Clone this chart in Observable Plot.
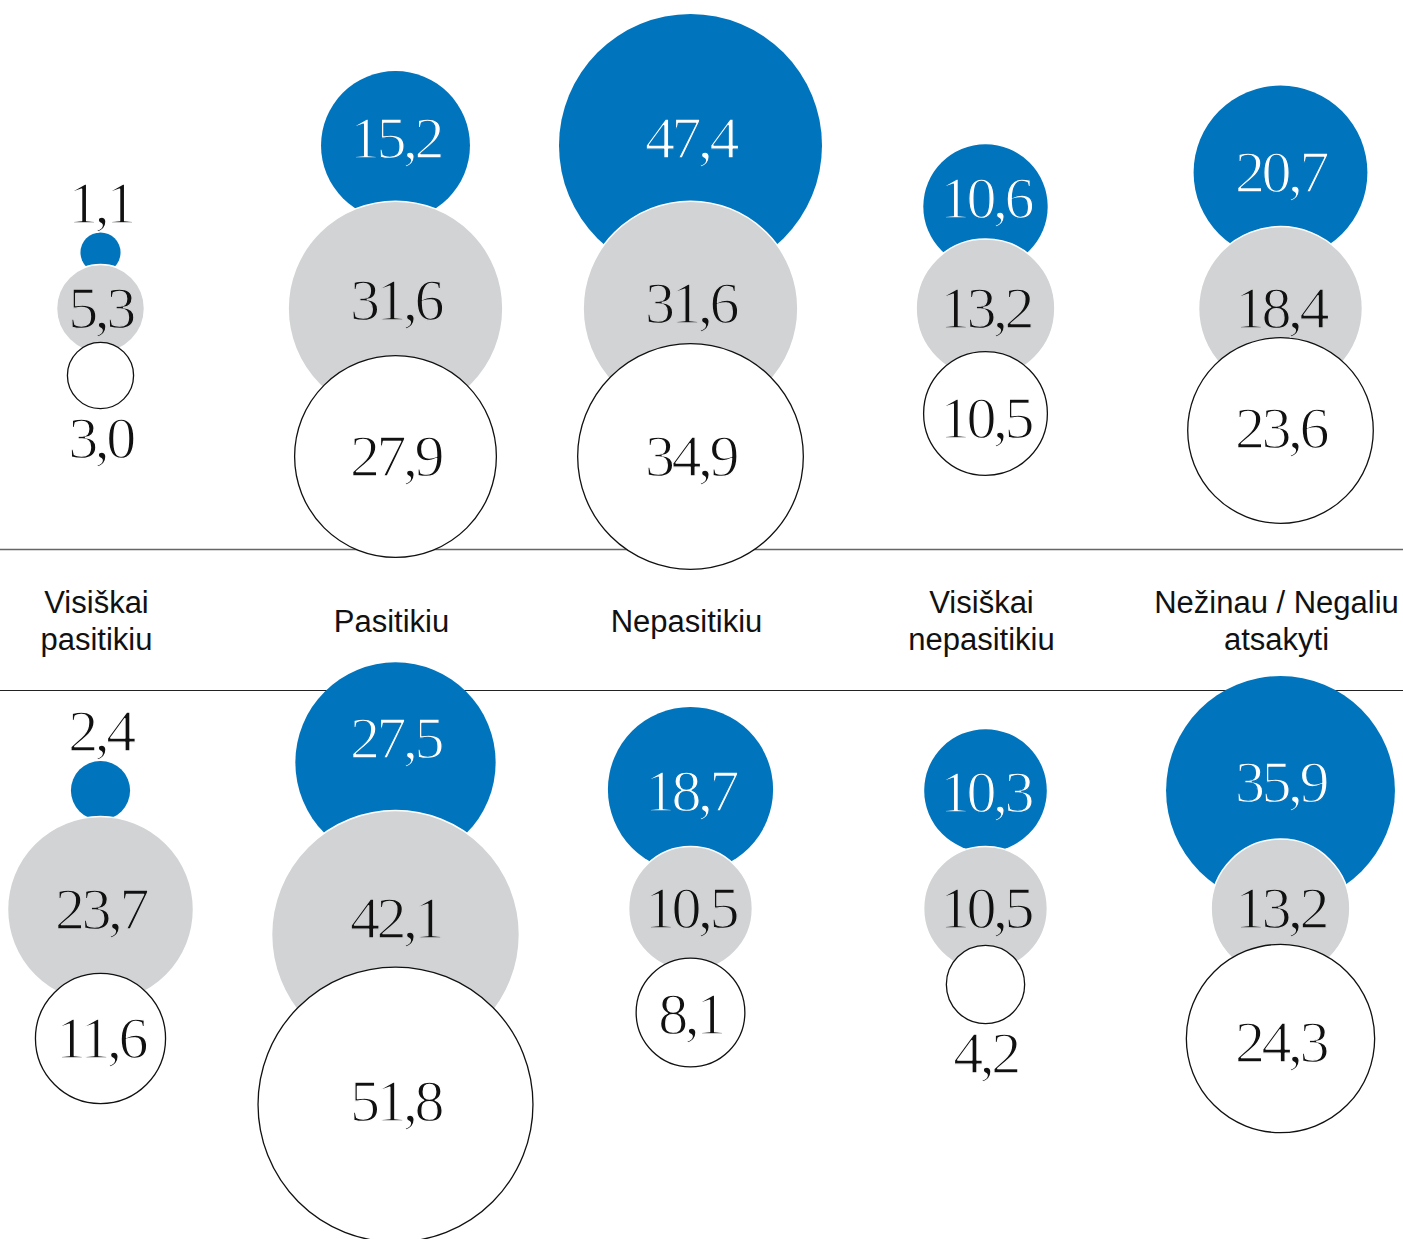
<!DOCTYPE html>
<html>
<head>
<meta charset="utf-8">
<script src="https://cdn.jsdelivr.net/npm/d3@7"></script>
<script src="https://cdn.jsdelivr.net/npm/@observablehq/plot@0.6"></script>
<style>
  html, body { margin: 0; padding: 0; background: #fff; }
</style>
</head>
<body>
<div id="chart"></div>
<script>
// ---------- data ----------
const categories = [
  "Visiškai\npasitikiu",
  "Pasitikiu",
  "Nepasitikiu",
  "Visiškai\nnepasitikiu",
  "Nežinau / Negaliu\natsakyti"
];
const seriesNames = ["blue", "grey", "white"];

// upper block
const topBlue  = [1.1, 15.2, 47.4, 10.6, 20.7];
const topGrey  = [5.3, 31.6, 31.6, 13.2, 18.4];
const topWhite = [3.0, 27.9, 34.9, 10.5, 23.6];
// lower block
const bottomBlue  = [2.4, 27.5, 18.7, 10.3, 35.9];
const bottomGrey  = [23.7, 42.1, 10.5, 10.5, 13.2];
const bottomWhite = [11.6, 51.8, 8.1, 4.2, 24.3];

// ---------- layout (vertical bubble centres, in layout units of the frame) ----------
const topBlueY     = [252, 145, 145, 206, 172];
const topGreyY     = [308, 308, 308, 308, 308];
const topWhiteY    = [375, 456, 456, 413, 430];
const bottomBlueY  = [790, 762, 789, 790, 790];
const bottomGreyY  = [909, 934, 908, 908, 908];
const bottomWhiteY = [1038, 1104, 1012, 984, 1038];
// label nudges relative to bubble centre
const topBlueNudge     = [0, -7, -7, -8, 0];
const topGreyNudge     = [0, -8, -5, 0, 0];
const topWhiteNudge    = [0, 0, 0, 5, -2];
const bottomBlueNudge  = [0, -24, 2, 2, -8];
const bottomGreyNudge  = [0, -16, 0, 0, 0];
const bottomWhiteNudge = [0, -3, 2, 0, 4];
const dividers = [549, 690];
const labelBandY = 619.5;

// ---------- styles ----------
const colors = {blue: "#0074bc", grey: "#d1d3d4", white: "#ffffff"};
const ink = "#111111";

const rDomain = [0, 100], rRange = [0, 191];
const rScale = d3.scaleSqrt().domain(rDomain).range(rRange);
const fmt = v => v.toFixed(1).replace(".", ",");

const rows = [];
function add(series, values, ys, nudges) {
  values.forEach((v, i) => {
    const y = ys[i];
    const r = rScale(v);
    const inside = v >= 5;
    let ly = y + nudges[i];
    if (!inside) ly = series === "blue" ? y - r - 29 : y + r + 30;
    rows.push({
      cat: categories[i], series, value: v, y, ly, inside,
      textFill: inside && series === "blue" ? "#ffffff" : ink,
      bg: inside ? colors[series] : "#ffffff"
    });
  });
}
add("blue", topBlue, topBlueY, topBlueNudge);
add("grey", topGrey, topGreyY, topGreyNudge);
add("white", topWhite, topWhiteY, topWhiteNudge);
add("blue", bottomBlue, bottomBlueY, bottomBlueNudge);
add("grey", bottomGrey, bottomGreyY, bottomGreyNudge);
add("white", bottomWhite, bottomWhiteY, bottomWhiteNudge);

const bySeries = s => rows.filter(d => d.series === s);

const plot = Plot.plot({
  width: 1403,
  height: 1239,
  margin: 0,
  style: {background: "#fff"},
  x: {type: "point", domain: categories, range: [100, 1280], padding: 0, axis: null},
  y: {domain: [0, 1239], range: [0, 1239], axis: null},
  r: {type: "sqrt", domain: rDomain, range: rRange},
  color: {type: "identity"},
  marks: [
    Plot.ruleY([dividers[0]], {y: d => d, stroke: "#666", strokeWidth: 1.6}),
    Plot.ruleY([dividers[1]], {y: d => d, stroke: "#222", strokeWidth: 1}),
    Plot.dot(bySeries("blue"), {x: "cat", y: "y", r: "value", fill: colors.blue, sort: null}),
    Plot.dot(bySeries("grey"), {x: "cat", y: "y", r: "value", fill: colors.grey, stroke: "#fff", strokeWidth: 1.5, sort: null}),
    Plot.dot(bySeries("white"), {x: "cat", y: "y", r: "value", fill: colors.white, stroke: ink, strokeWidth: 1.3, sort: null}),
    Plot.text(rows, {
      x: "cat", y: "ly", text: d => fmt(d.value),
      fill: "textFill", stroke: "bg", strokeWidth: 1.3, paintOrder: "normal",
      fontFamily: "Liberation Serif", fontSize: 60
    }),
    Plot.text(categories, {
      x: d => d, y: () => labelBandY, text: d => d, dx: -4,
      fill: ink, fontFamily: "Liberation Sans", fontSize: 31, lineHeight: 1.19
    })
  ]
});

plot.querySelectorAll('g[font-family="Liberation Serif"]').forEach(g => g.setAttribute("letter-spacing", "-3.5"));
document.getElementById("chart").appendChild(plot);
</script>
</body>
</html>
